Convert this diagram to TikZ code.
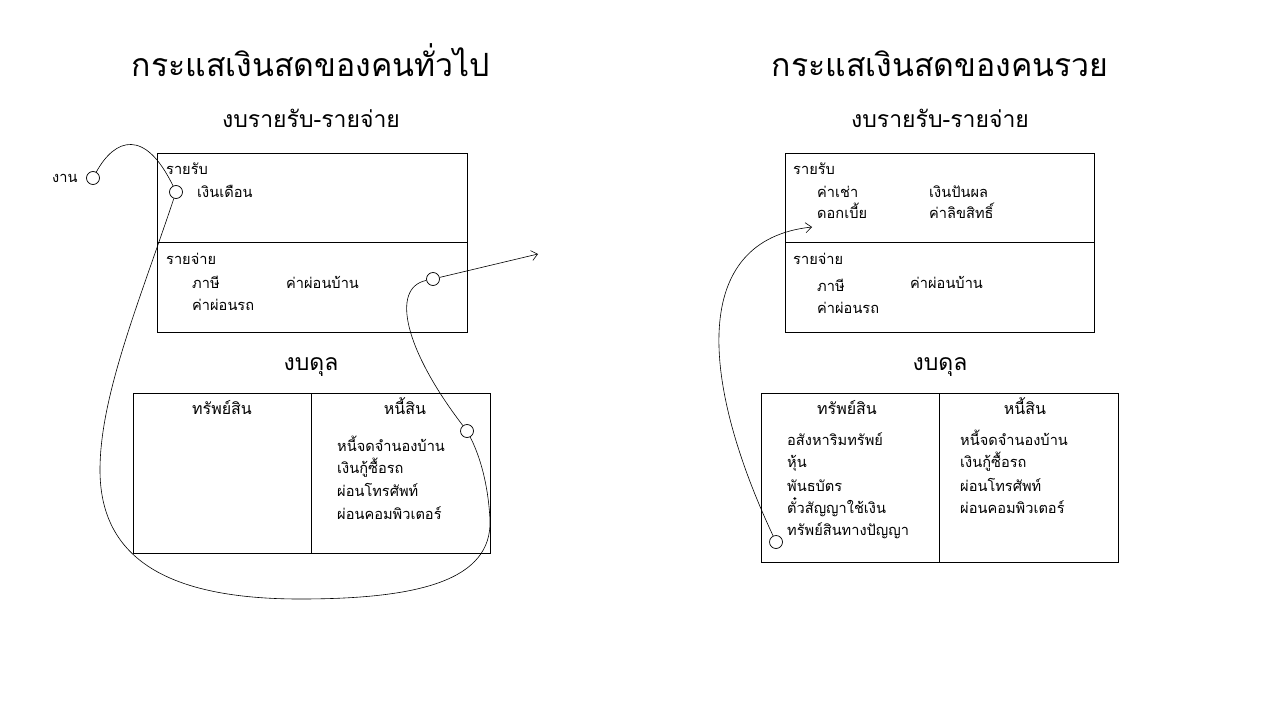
\documentclass[tikz,border=0pt]{standalone}
\usepackage{fontspec}
\setmainfont[Script=Thai]{Loma}
\usetikzlibrary{arrows.meta}
\tikzset{
  txt/.style={anchor=base west, inner sep=0pt, font=\fontsize{14.6}{18}\selectfont},
  head/.style={anchor=base, inner sep=0pt, font=\fontsize{16}{19}\selectfont},
  sub/.style={anchor=base, inner sep=0pt, font=\fontsize{23}{27}\selectfont},
  ttl/.style={anchor=base, inner sep=0pt, font=\fontsize{32}{38}\selectfont},
  boxline/.style={line width=1pt},
  dot/.style={circle, draw, line width=0.7pt, minimum size=13pt, inner sep=0pt},
  flow/.style={line width=0.6pt},
  tip/.style={-{Straight Barb[length=6pt,width=10pt]}}
}
\begin{document}
\begin{tikzpicture}[x=1pt,y=-1pt]
\useasboundingbox (0,0) rectangle (1280,720);
\fill[white] (0,0) rectangle (1280,720);
% ---------------- left ----------------
\node[ttl] (tl) at (311,76) {กระแสเงินสดของคนทั่วไป};
\node[sub] (sl) at (311,127) {งบรายรับ-รายจ่าย};
\draw[boxline] (157,153) rectangle (467,332);
\draw[boxline] (157,242) -- (467,242);
\node[txt] (l1) at (166,174) {รายรับ};
\node[txt] (l2) at (197,197) {เงินเดือน};
\node[txt] (l3) at (166,264) {รายจ่าย};
\node[txt] (l4) at (192,288) {ภาษี};
\node[txt] (l5) at (286,288) {ค่าผ่อนบ้าน};
\node[txt] (l6) at (192,310) {ค่าผ่อนรถ};
\node[txt] (work) at (52,182) {งาน};
\node[sub] (bl) at (311,370) {งบดุล};
\draw[boxline] (133,393) rectangle (490,553);
\draw[boxline] (311,393) -- (311,553);
\node[head] (al) at (222,414) {ทรัพย์สิน};
\node[head] (dl) at (405,414) {หนี้สิน};
\node[txt] (d1) at (337,451) {หนี้จดจำนองบ้าน};
\node[txt] (d2) at (337,473) {เงินกู้ซื้อรถ};
\node[txt] (d3) at (337,496) {ผ่อนโทรศัพท์};
\node[txt] (d4) at (337,519) {ผ่อนคอมพิวเตอร์};
\node[dot] (cw) at (93,178) {};
\node[dot] (cs) at (176,192) {};
\node[dot] (ce) at (433,279) {};
\node[dot] (cd) at (467,431) {};
\coordinate (pA) at (100,470);
\coordinate (pB) at (300,599);
\coordinate (pC) at (490,520);
\coordinate (out) at (538,254);
\draw[flow] (cw) .. controls (115,138) and (145,128) .. (cs);
\draw[flow] (cs) .. controls (140,300) and (100,395) .. (pA)
   .. controls (100,560) and (170,599) .. (pB)
   .. controls (420,599) and (492,580) .. (pC)
   .. controls (488,480) and (478,452) .. (cd);
\draw[flow] (cd) .. controls (405,350) and (390,288) .. (ce);
\draw[flow,tip] (ce) -- (out);
% ---------------- right ----------------
\node[ttl] (tr) at (940,76) {กระแสเงินสดของคนรวย};
\node[sub] (sr) at (940,127) {งบรายรับ-รายจ่าย};
\draw[boxline] (785,153) rectangle (1094,332);
\draw[boxline] (785,242) -- (1094,242);
\node[txt] (r1) at (793,174) {รายรับ};
\node[txt] (r2) at (817,197) {ค่าเช่า};
\node[txt] (r3) at (929,197) {เงินปันผล};
\node[txt] (r4) at (817,218) {ดอกเบี้ย};
\node[txt] (r5) at (929,218) {ค่าลิขสิทธิ์};
\node[txt] (r6) at (793,264) {รายจ่าย};
\node[txt] (r7) at (817,291) {ภาษี};
\node[txt] (r8) at (910,288) {ค่าผ่อนบ้าน};
\node[txt] (r9) at (817,313) {ค่าผ่อนรถ};
\node[sub] (br) at (940,370) {งบดุล};
\draw[boxline] (761,393) rectangle (1118,562);
\draw[boxline] (939,393) -- (939,562);
\node[head] (ar) at (847,414) {ทรัพย์สิน};
\node[head] (dr) at (1025,414) {หนี้สิน};
\node[txt] (a1) at (787,445) {อสังหาริมทรัพย์};
\node[txt] (a2) at (787,467) {หุ้น};
\node[txt] (a3) at (787,491) {พันธบัตร};
\node[txt] (a4) at (787,513) {ตั๋วสัญญาใช้เงิน};
\node[txt] (a5) at (787,535) {ทรัพย์สินทางปัญญา};
\node[txt] (e1) at (960,445) {หนี้จดจำนองบ้าน};
\node[txt] (e2) at (960,467) {เงินกู้ซื้อรถ};
\node[txt] (e3) at (960,491) {ผ่อนโทรศัพท์};
\node[txt] (e4) at (960,513) {ผ่อนคอมพิวเตอร์};
\node[dot] (cr) at (776,542) {};
\coordinate (rin) at (812,227);
\draw[flow,tip] (cr) .. controls (700,380) and (690,240) .. (rin);
\end{tikzpicture}
\end{document}
